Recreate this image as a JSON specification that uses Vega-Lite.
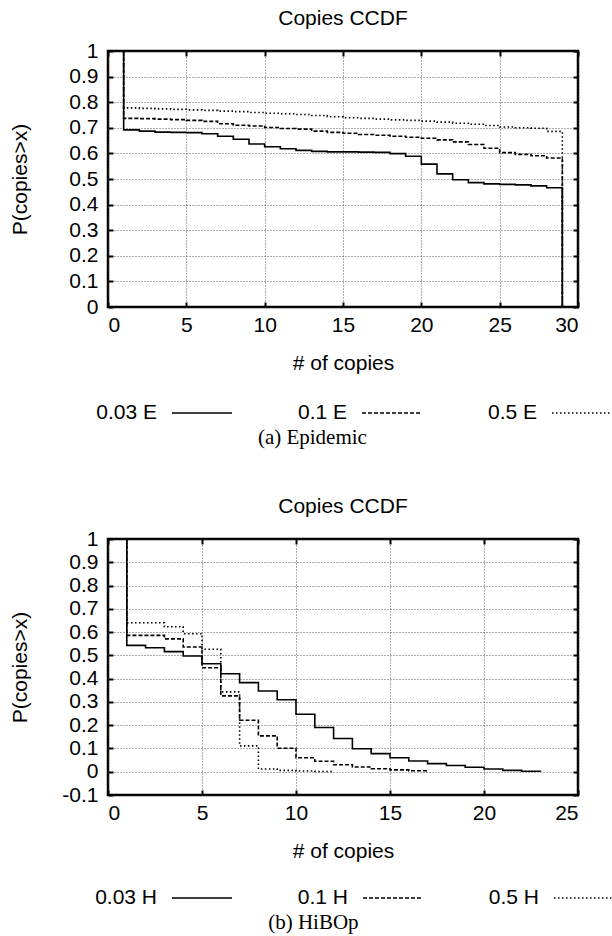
{
  "$schema": "https://vega.github.io/schema/vega-lite/v6.json",
  "background": "white",
  "padding": {"left": 8, "top": 6, "right": 0, "bottom": 0},
  "config": {
    "font": "Liberation Sans",
    "view": {"stroke": "black", "strokeWidth": 2.5},
    "title": {"fontSize": 21, "fontWeight": "normal", "font": "Liberation Sans", "color": "black", "offset": 11},
    "axis": {
      "labelFont": "Liberation Sans", "labelFontSize": 21, "labelColor": "black",
      "titleFont": "Liberation Sans", "titleFontSize": 21, "titleFontWeight": "normal", "titleColor": "black",
      "domain": false, "tickColor": "black", "tickWidth": 2, "tickSize": -5,
      "gridColor": "#333", "gridDash": [1, 2], "gridWidth": 1, "gridOpacity": 0.8
    },
    "legend": {
      "orient": "none", "legendX": 63, "direction": "horizontal", "title": null,
      "symbolType": "stroke", "symbolSize": 3600, "symbolStrokeWidth": 1.5, "symbolStrokeColor": "black",
      "labelFont": "Liberation Sans", "labelFontSize": 21, "labelColor": "black",
      "labelAlign": "right", "labelOffset": -76, "labelLimit": 0,
      "columnPadding": 62, "padding": 0
    }
  },
  "datasets": {
    "epi": [
      {"s": "0.03 E", "i": 0, "x": 1, "p": 1},
      {"s": "0.03 E", "i": 1, "x": 1, "p": 0.692},
      {"s": "0.03 E", "i": 2, "x": 2, "p": 0.687},
      {"s": "0.03 E", "i": 3, "x": 3, "p": 0.683},
      {"s": "0.03 E", "i": 4, "x": 4, "p": 0.682},
      {"s": "0.03 E", "i": 5, "x": 5, "p": 0.681},
      {"s": "0.03 E", "i": 6, "x": 6, "p": 0.677},
      {"s": "0.03 E", "i": 7, "x": 7, "p": 0.667},
      {"s": "0.03 E", "i": 8, "x": 8, "p": 0.655},
      {"s": "0.03 E", "i": 9, "x": 9, "p": 0.637},
      {"s": "0.03 E", "i": 10, "x": 10, "p": 0.626},
      {"s": "0.03 E", "i": 11, "x": 11, "p": 0.618},
      {"s": "0.03 E", "i": 12, "x": 12, "p": 0.612},
      {"s": "0.03 E", "i": 13, "x": 13, "p": 0.608},
      {"s": "0.03 E", "i": 14, "x": 14, "p": 0.606},
      {"s": "0.03 E", "i": 15, "x": 15, "p": 0.606},
      {"s": "0.03 E", "i": 16, "x": 16, "p": 0.605},
      {"s": "0.03 E", "i": 17, "x": 17, "p": 0.604},
      {"s": "0.03 E", "i": 18, "x": 18, "p": 0.599},
      {"s": "0.03 E", "i": 19, "x": 19, "p": 0.589},
      {"s": "0.03 E", "i": 20, "x": 20, "p": 0.558},
      {"s": "0.03 E", "i": 21, "x": 21, "p": 0.52},
      {"s": "0.03 E", "i": 22, "x": 22, "p": 0.497},
      {"s": "0.03 E", "i": 23, "x": 23, "p": 0.486},
      {"s": "0.03 E", "i": 24, "x": 24, "p": 0.481},
      {"s": "0.03 E", "i": 25, "x": 25, "p": 0.479},
      {"s": "0.03 E", "i": 26, "x": 26, "p": 0.477},
      {"s": "0.03 E", "i": 27, "x": 27, "p": 0.473},
      {"s": "0.03 E", "i": 28, "x": 28, "p": 0.466},
      {"s": "0.03 E", "i": 29, "x": 29, "p": 0},
      {"s": "0.1 E", "i": 0, "x": 1, "p": 1},
      {"s": "0.1 E", "i": 1, "x": 1, "p": 0.737},
      {"s": "0.1 E", "i": 2, "x": 2, "p": 0.736},
      {"s": "0.1 E", "i": 3, "x": 3, "p": 0.734},
      {"s": "0.1 E", "i": 4, "x": 4, "p": 0.732},
      {"s": "0.1 E", "i": 5, "x": 5, "p": 0.729},
      {"s": "0.1 E", "i": 6, "x": 6, "p": 0.725},
      {"s": "0.1 E", "i": 7, "x": 7, "p": 0.716},
      {"s": "0.1 E", "i": 8, "x": 8, "p": 0.71},
      {"s": "0.1 E", "i": 9, "x": 9, "p": 0.707},
      {"s": "0.1 E", "i": 10, "x": 10, "p": 0.701},
      {"s": "0.1 E", "i": 11, "x": 11, "p": 0.697},
      {"s": "0.1 E", "i": 12, "x": 12, "p": 0.695},
      {"s": "0.1 E", "i": 13, "x": 13, "p": 0.687},
      {"s": "0.1 E", "i": 14, "x": 14, "p": 0.682},
      {"s": "0.1 E", "i": 15, "x": 15, "p": 0.679},
      {"s": "0.1 E", "i": 16, "x": 16, "p": 0.674},
      {"s": "0.1 E", "i": 17, "x": 17, "p": 0.671},
      {"s": "0.1 E", "i": 18, "x": 18, "p": 0.667},
      {"s": "0.1 E", "i": 19, "x": 19, "p": 0.663},
      {"s": "0.1 E", "i": 20, "x": 20, "p": 0.659},
      {"s": "0.1 E", "i": 21, "x": 21, "p": 0.653},
      {"s": "0.1 E", "i": 22, "x": 22, "p": 0.645},
      {"s": "0.1 E", "i": 23, "x": 23, "p": 0.635},
      {"s": "0.1 E", "i": 24, "x": 24, "p": 0.62},
      {"s": "0.1 E", "i": 25, "x": 25, "p": 0.603},
      {"s": "0.1 E", "i": 26, "x": 26, "p": 0.596},
      {"s": "0.1 E", "i": 27, "x": 27, "p": 0.591},
      {"s": "0.1 E", "i": 28, "x": 28, "p": 0.582},
      {"s": "0.1 E", "i": 29, "x": 29, "p": 0},
      {"s": "0.5 E", "i": 0, "x": 1, "p": 1},
      {"s": "0.5 E", "i": 1, "x": 1, "p": 0.778},
      {"s": "0.5 E", "i": 2, "x": 2, "p": 0.776},
      {"s": "0.5 E", "i": 3, "x": 3, "p": 0.774},
      {"s": "0.5 E", "i": 4, "x": 4, "p": 0.772},
      {"s": "0.5 E", "i": 5, "x": 5, "p": 0.77},
      {"s": "0.5 E", "i": 6, "x": 6, "p": 0.768},
      {"s": "0.5 E", "i": 7, "x": 7, "p": 0.765},
      {"s": "0.5 E", "i": 8, "x": 8, "p": 0.763},
      {"s": "0.5 E", "i": 9, "x": 9, "p": 0.76},
      {"s": "0.5 E", "i": 10, "x": 10, "p": 0.757},
      {"s": "0.5 E", "i": 11, "x": 11, "p": 0.755},
      {"s": "0.5 E", "i": 12, "x": 12, "p": 0.752},
      {"s": "0.5 E", "i": 13, "x": 13, "p": 0.748},
      {"s": "0.5 E", "i": 14, "x": 14, "p": 0.743},
      {"s": "0.5 E", "i": 15, "x": 15, "p": 0.739},
      {"s": "0.5 E", "i": 16, "x": 16, "p": 0.737},
      {"s": "0.5 E", "i": 17, "x": 17, "p": 0.734},
      {"s": "0.5 E", "i": 18, "x": 18, "p": 0.731},
      {"s": "0.5 E", "i": 19, "x": 19, "p": 0.729},
      {"s": "0.5 E", "i": 20, "x": 20, "p": 0.726},
      {"s": "0.5 E", "i": 21, "x": 21, "p": 0.722},
      {"s": "0.5 E", "i": 22, "x": 22, "p": 0.718},
      {"s": "0.5 E", "i": 23, "x": 23, "p": 0.714},
      {"s": "0.5 E", "i": 24, "x": 24, "p": 0.709},
      {"s": "0.5 E", "i": 25, "x": 25, "p": 0.703},
      {"s": "0.5 E", "i": 26, "x": 26, "p": 0.7},
      {"s": "0.5 E", "i": 27, "x": 27, "p": 0.698},
      {"s": "0.5 E", "i": 28, "x": 28, "p": 0.686},
      {"s": "0.5 E", "i": 29, "x": 29, "p": 0}
    ],
    "hibop": [
      {"s": "0.03 H", "i": 0, "x": 1, "p": 1},
      {"s": "0.03 H", "i": 1, "x": 1, "p": 0.543},
      {"s": "0.03 H", "i": 2, "x": 2, "p": 0.533},
      {"s": "0.03 H", "i": 3, "x": 3, "p": 0.516},
      {"s": "0.03 H", "i": 4, "x": 4, "p": 0.497},
      {"s": "0.03 H", "i": 5, "x": 5, "p": 0.464},
      {"s": "0.03 H", "i": 6, "x": 6, "p": 0.421},
      {"s": "0.03 H", "i": 7, "x": 7, "p": 0.383},
      {"s": "0.03 H", "i": 8, "x": 8, "p": 0.347},
      {"s": "0.03 H", "i": 9, "x": 9, "p": 0.309},
      {"s": "0.03 H", "i": 10, "x": 10, "p": 0.247},
      {"s": "0.03 H", "i": 11, "x": 11, "p": 0.19},
      {"s": "0.03 H", "i": 12, "x": 12, "p": 0.143},
      {"s": "0.03 H", "i": 13, "x": 13, "p": 0.099},
      {"s": "0.03 H", "i": 14, "x": 14, "p": 0.078},
      {"s": "0.03 H", "i": 15, "x": 15, "p": 0.06},
      {"s": "0.03 H", "i": 16, "x": 16, "p": 0.046},
      {"s": "0.03 H", "i": 17, "x": 17, "p": 0.035},
      {"s": "0.03 H", "i": 18, "x": 18, "p": 0.027},
      {"s": "0.03 H", "i": 19, "x": 19, "p": 0.019},
      {"s": "0.03 H", "i": 20, "x": 20, "p": 0.012},
      {"s": "0.03 H", "i": 21, "x": 21, "p": 0.006},
      {"s": "0.03 H", "i": 22, "x": 22, "p": 0.002},
      {"s": "0.03 H", "i": 23, "x": 23, "p": 0},
      {"s": "0.1 H", "i": 0, "x": 1, "p": 1},
      {"s": "0.1 H", "i": 1, "x": 1, "p": 0.586},
      {"s": "0.1 H", "i": 2, "x": 2, "p": 0.586},
      {"s": "0.1 H", "i": 3, "x": 3, "p": 0.571},
      {"s": "0.1 H", "i": 4, "x": 4, "p": 0.536},
      {"s": "0.1 H", "i": 5, "x": 5, "p": 0.447},
      {"s": "0.1 H", "i": 6, "x": 6, "p": 0.326},
      {"s": "0.1 H", "i": 7, "x": 7, "p": 0.221},
      {"s": "0.1 H", "i": 8, "x": 8, "p": 0.154},
      {"s": "0.1 H", "i": 9, "x": 9, "p": 0.101},
      {"s": "0.1 H", "i": 10, "x": 10, "p": 0.06},
      {"s": "0.1 H", "i": 11, "x": 11, "p": 0.045},
      {"s": "0.1 H", "i": 12, "x": 12, "p": 0.03},
      {"s": "0.1 H", "i": 13, "x": 13, "p": 0.02},
      {"s": "0.1 H", "i": 14, "x": 14, "p": 0.013},
      {"s": "0.1 H", "i": 15, "x": 15, "p": 0.008},
      {"s": "0.1 H", "i": 16, "x": 16, "p": 0.004},
      {"s": "0.1 H", "i": 17, "x": 17, "p": 0.001},
      {"s": "0.5 H", "i": 0, "x": 1, "p": 1},
      {"s": "0.5 H", "i": 1, "x": 1, "p": 0.64},
      {"s": "0.5 H", "i": 2, "x": 2, "p": 0.64},
      {"s": "0.5 H", "i": 3, "x": 3, "p": 0.623},
      {"s": "0.5 H", "i": 4, "x": 4, "p": 0.593},
      {"s": "0.5 H", "i": 5, "x": 5, "p": 0.526},
      {"s": "0.5 H", "i": 6, "x": 6, "p": 0.343},
      {"s": "0.5 H", "i": 7, "x": 7, "p": 0.111},
      {"s": "0.5 H", "i": 8, "x": 8, "p": 0.012},
      {"s": "0.5 H", "i": 9, "x": 9, "p": 0.006},
      {"s": "0.5 H", "i": 10, "x": 10, "p": 0.003},
      {"s": "0.5 H", "i": 11, "x": 11, "p": 0.001},
      {"s": "0.5 H", "i": 12, "x": 12, "p": 0}
    ]
  },
  "spacing": 45,
  "resolve": {"scale": {"strokeDash": "independent"}, "legend": {"strokeDash": "independent"}},
  "vconcat": [
    {
      "title": {"text": "(a) Epidemic", "orient": "bottom", "anchor": "middle", "font": "Liberation Serif", "fontSize": 21, "fontWeight": "normal", "offset": 3},
      "resolve": {"scale": {"strokeDash": "independent"}, "legend": {"strokeDash": "independent"}},
      "vconcat": [
        {
          "title": {"text": "Copies CCDF"},
          "width": 470,
          "height": 256,
          "data": {"name": "epi"},
          "resolve": {"axis": {"x": "independent", "y": "independent"}},
          "layer": [
            {
              "mark": {"type": "line", "interpolate": "step-after", "color": "black", "strokeWidth": 1.6},
              "encoding": {
                "x": {"field": "x", "type": "quantitative", "scale": {"domain": [0, 30], "nice": false, "zero": false},
                      "axis": {"orient": "bottom", "title": "# of copies", "values": [0, 5, 10, 15, 20, 25, 30], "grid": true, "labelPadding": 12, "titlePadding": 17}},
                "y": {"field": "p", "type": "quantitative", "scale": {"domain": [0, 1], "nice": false},
                      "axis": {"orient": "left", "title": "P(copies>x)", "values": [0, 0.1, 0.2, 0.3, 0.4, 0.5, 0.6, 0.7, 0.8, 0.9, 1], "grid": true, "labelPadding": 15, "titlePadding": 38,
                               "labelExpr": "replace(format(datum.value, '~g'), '\u2212', '-')"}},
                "strokeDash": {"field": "s", "type": "nominal",
                               "scale": {"domain": ["0.03 E", "0.1 E", "0.5 E"], "range": [[1, 0], [4, 2], [1.5, 2.5]]},
                               "legend": {"legendY": 331}},
                "order": {"field": "i", "type": "quantitative"}
              }
            },
            {
              "mark": {"type": "point", "opacity": 0},
              "encoding": {
                "x": {"field": "x", "type": "quantitative", "axis": {"orient": "top", "title": null, "labels": false, "grid": false, "values": [0, 5, 10, 15, 20, 25, 30]}},
                "y": {"field": "p", "type": "quantitative", "axis": {"orient": "right", "title": null, "labels": false, "grid": false, "values": [0, 0.1, 0.2, 0.3, 0.4, 0.5, 0.6, 0.7, 0.8, 0.9, 1]}}
              }
            }
          ]
        }
      ]
    },
    {
      "title": {"text": "(b) HiBOp", "orient": "bottom", "anchor": "middle", "font": "Liberation Serif", "fontSize": 21, "fontWeight": "normal", "offset": 3},
      "resolve": {"scale": {"strokeDash": "independent"}, "legend": {"strokeDash": "independent"}},
      "vconcat": [
        {
          "title": {"text": "Copies CCDF"},
          "width": 470,
          "height": 256,
          "data": {"name": "hibop"},
          "resolve": {"axis": {"x": "independent", "y": "independent"}},
          "layer": [
            {
              "mark": {"type": "line", "interpolate": "step-after", "color": "black", "strokeWidth": 1.6},
              "encoding": {
                "x": {"field": "x", "type": "quantitative", "scale": {"domain": [0, 25], "nice": false, "zero": false},
                      "axis": {"orient": "bottom", "title": "# of copies", "values": [0, 5, 10, 15, 20, 25], "grid": true, "labelPadding": 12, "titlePadding": 17}},
                "y": {"field": "p", "type": "quantitative", "scale": {"domain": [-0.1, 1], "nice": false},
                      "axis": {"orient": "left", "title": "P(copies>x)", "values": [-0.1, 0, 0.1, 0.2, 0.3, 0.4, 0.5, 0.6, 0.7, 0.8, 0.9, 1], "grid": true, "labelPadding": 15, "titlePadding": 31,
                               "labelExpr": "replace(format(datum.value, '~g'), '\u2212', '-')"}},
                "strokeDash": {"field": "s", "type": "nominal",
                               "scale": {"domain": ["0.03 H", "0.1 H", "0.5 H"], "range": [[1, 0], [4, 2], [1.5, 2.5]]},
                               "legend": {"legendY": 328}},
                "order": {"field": "i", "type": "quantitative"}
              }
            },
            {
              "mark": {"type": "point", "opacity": 0},
              "encoding": {
                "x": {"field": "x", "type": "quantitative", "axis": {"orient": "top", "title": null, "labels": false, "grid": false, "values": [0, 5, 10, 15, 20, 25]}},
                "y": {"field": "p", "type": "quantitative", "axis": {"orient": "right", "title": null, "labels": false, "grid": false, "values": [-0.1, 0, 0.1, 0.2, 0.3, 0.4, 0.5, 0.6, 0.7, 0.8, 0.9, 1]}}
              }
            }
          ]
        }
      ]
    }
  ]
}
